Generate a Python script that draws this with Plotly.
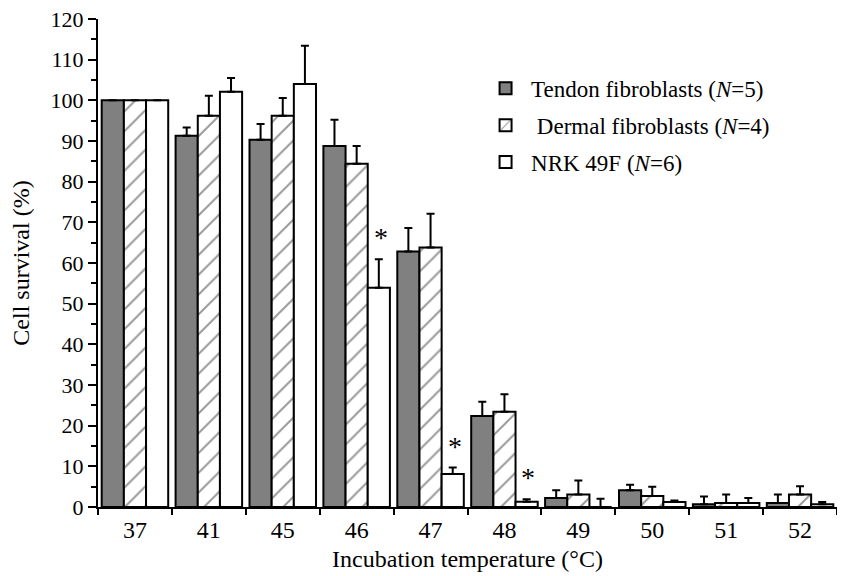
import plotly.graph_objects as go

temps = ["37", "41", "45", "46", "47", "48", "49", "50", "51", "52"]
tendon = [100, 91.3, 90.3, 88.8, 62.8, 22.4, 2.2, 4.1, 0.7, 1.0]
tendon_sd = [0, 2.0, 3.9, 6.4, 5.8, 3.5, 1.9, 1.4, 1.9, 2.1]
dermal = [100, 96.2, 96.2, 84.4, 63.8, 23.4, 3.1, 2.7, 1.0, 3.1]
dermal_sd = [0, 4.9, 4.4, 4.4, 8.3, 4.3, 3.4, 2.3, 2.1, 2.0]
nrk = [100, 102.1, 104.0, 53.9, 8.1, 1.3, 0, 1.2, 1.0, 0.7]
nrk_sd = [0, 3.4, 9.4, 7.0, 1.6, 0.6, 2.0, 0.4, 1.2, 0.5]
star_temps = ["46", "47", "48"]

names = ["Tendon fibroblasts (<i>N</i>=5)", " Dermal fibroblasts (<i>N</i>=4)", "NRK 49F (<i>N</i>=6)"]
FONT = "Liberation Serif, Times New Roman, serif"

def err(sd):
    return dict(type="data", array=sd, arrayminus=[0] * len(sd), symmetric=False,
                color="black", thickness=2, width=4)

fig = go.Figure()
fig.add_trace(go.Bar(x=temps, y=tendon, name=names[0], legendgroup="a", error_y=err(tendon_sd),
                     marker=dict(color="#808080", line=dict(color="black", width=2))))
fig.add_trace(go.Bar(x=temps, y=dermal, name=names[1], legendgroup="b", error_y=err(dermal_sd),
                     marker=dict(color="white", line=dict(color="black", width=2),
                                 pattern=dict(shape="/", size=14, solidity=0.14,
                                              fgcolor="#333333", bgcolor="white"))))
fig.add_trace(go.Bar(x=temps, y=nrk, name=names[2], legendgroup="c", error_y=err(nrk_sd),
                     marker=dict(color="white", line=dict(color="black", width=2))))

for t in star_temps:
    i = temps.index(t)
    fig.add_annotation(x=i, y=nrk[i] + nrk_sd[i], xref="x", yref="y", text="*",
                       showarrow=False, xshift=24, yshift=4, yanchor="bottom",
                       font=dict(family=FONT, size=28, color="black"))

fig.update_layout(
    width=837, height=568,
    margin=dict(l=90, r=8, t=11, b=69),
    paper_bgcolor="white", plot_bgcolor="white",
    barmode="group", bargap=0.1, bargroupgap=0,
    font=dict(family=FONT, size=22, color="black"),
    showlegend=True,
    legend=dict(x=0.517, y=0.902, xanchor="left", yanchor="top",
                font=dict(family=FONT, size=23, color="black"),
                tracegroupgap=4, itemwidth=41, bgcolor="rgba(0,0,0,0)"),
)
fig.update_xaxes(
    type="category", range=[-0.5, len(temps) - 0.5], showline=True, linecolor="black", linewidth=2,
    ticks="outside", tickson="boundaries", ticklen=6, tickwidth=2, tickcolor="black",
    tickfont=dict(family=FONT, size=24), showgrid=False, zeroline=False, tickangle=0,
    automargin=False, ticklabeloverflow="allow",
    title=dict(text="Incubation temperature (°C)", font=dict(family=FONT, size=24), standoff=8),
)
fig.update_yaxes(
    range=[0, 120], dtick=10, showline=True, linecolor="black", linewidth=2,
    ticks="outside", ticklen=8, tickwidth=2, tickcolor="black",
    minor=dict(dtick=5, ticks="outside", ticklen=5, tickwidth=2, tickcolor="black"),
    tickfont=dict(family=FONT, size=22), showgrid=False, zeroline=False,
    automargin=False, ticklabeloverflow="allow",
    title=dict(text="Cell survival (%)", font=dict(family=FONT, size=24), standoff=16),
)

fig.write_html("out.html")
